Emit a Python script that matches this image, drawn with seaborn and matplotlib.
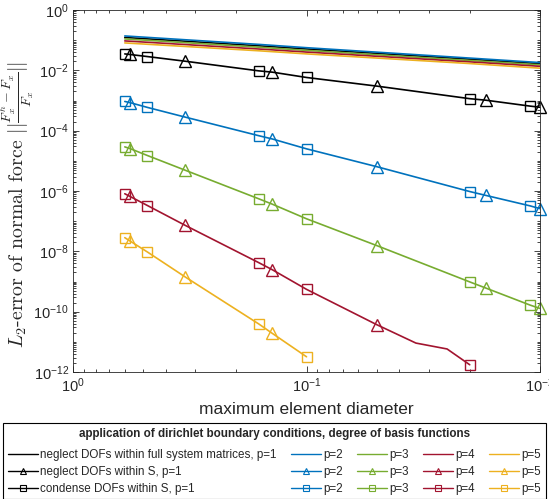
import numpy as np
import pandas as pd
import matplotlib
matplotlib.use("Agg")
import matplotlib.pyplot as plt
from matplotlib.lines import Line2D
from matplotlib.ticker import LogLocator, FuncFormatter, NullFormatter
import seaborn as sns

# maximum element diameter of the meshes
h_full = [0.6, 0.16, 0.1, 0.02, 0.01]
h_tri = [0.57, 0.33, 0.14, 0.05, 0.017, 0.01]
h_sq = [0.6, 0.48, 0.16, 0.1, 0.02, 0.011]
h_p4_extra = [0.034, 0.025]

# neglect DOFs within full system matrices
err_full_p1 = [0.123, 0.065, 0.051, 0.0234, 0.0166]
err_full_p2 = [0.138, 0.0724, 0.0563, 0.0255, 0.0181]
err_full_p3 = [0.110, 0.0585, 0.0458, 0.0212, 0.0152]
err_full_p4 = [0.0945, 0.0509, 0.0403, 0.0191, 0.0136]
err_full_p5 = [0.081, 0.0445, 0.0351, 0.0168, 0.0118]

# neglect DOFs within S
err_tri_p1 = [0.0335, 0.020, 0.0087, 0.0030, 0.00102, 0.0006]
err_tri_p2 = [8.5e-4, 2.8e-4, 5.3e-5, 6.4e-6, 7.1e-7, 2.6e-7]
err_tri_p3 = [2.55e-5, 4.85e-6, 3.65e-7, 1.55e-8, 6.0e-10, 1.28e-10]
err_tri_p4 = [6.6e-7, 7.2e-8, 2.45e-9, 3.7e-11]
err_tri_p5 = [2.2e-8, 1.4e-9, 1.9e-11]

# condense DOFs within S
err_sq_p1 = [0.035, 0.0286, 0.0096, 0.0058, 0.00115, 0.00065]
err_sq_p2 = [9.3e-4, 5.9e-4, 6.8e-5, 2.5e-5, 9.6e-7, 3.2e-7]
err_sq_p3 = [2.9e-5, 1.5e-5, 5.5e-7, 1.2e-7, 9.7e-10, 1.64e-10]
err_sq_p4 = [8.1e-7, 3.3e-7, 4.2e-9, 5.5e-10, 1.74e-12]
err_sq_p5 = [2.84e-8, 9.5e-9, 3.9e-11, 3.2e-12]
h_sq_p4 = [0.6, 0.48, 0.16, 0.1, 0.02]

# p=4 solution between the marked meshes
err_p4_extra = [9.1e-12, 5.8e-12]

degrees = ["p=1", "p=2", "p=3", "p=4", "p=5"]
colors = ["#000000", "#0072BD", "#77AC30", "#A2142F", "#EDB120"]
row_labels = ["neglect DOFs within full system matrices",
              "neglect DOFs within S",
              "condense DOFs within S"]

sns.set_theme(style="ticks")
plt.rcParams["font.family"] = ["Liberation Sans", "DejaVu Sans"]
plt.rcParams["mathtext.fontset"] = "custom"
plt.rcParams["mathtext.rm"] = "Liberation Sans"
plt.rcParams["mathtext.it"] = "Liberation Sans:italic"
plt.rcParams["mathtext.bf"] = "Liberation Sans:bold"

axis_color = "#262626"
LW = 1.2

fig = plt.figure(figsize=(5.49, 4.99), dpi=100)
ax = fig.add_axes([73 / 549, 1 - 372 / 499, 467 / 549, 362 / 499])
ax.set_xscale("log")
ax.set_yscale("log")


def draw_line(h, err, color):
    df = pd.DataFrame({"h": h, "err": err})
    sns.lineplot(data=df, x="h", y="err", ax=ax, color=color, linewidth=LW,
                 legend=False, estimator=None, sort=True)


def draw_markers(h, err, color, marker, ms):
    df = pd.DataFrame({"h": h, "err": err})
    n0 = len(ax.lines)
    sns.lineplot(data=df, x="h", y="err", ax=ax, color=color, linestyle="",
                 marker=marker, markersize=ms, markerfacecolor="none",
                 markeredgecolor=color, markeredgewidth=1.0, legend=False,
                 estimator=None, sort=True)
    for ln in ax.lines[n0:]:
        ln.set_clip_on(False)


full_sets = [err_full_p1, err_full_p2, err_full_p3, err_full_p4, err_full_p5]
tri_sets = [err_tri_p1, err_tri_p2, err_tri_p3, err_tri_p4, err_tri_p5]
sq_sets = [err_sq_p1, err_sq_p2, err_sq_p3, err_sq_p4, err_sq_p5]

for err, c in zip(full_sets, colors):
    draw_line(h_full, err, c)

for k, (err_t, err_s, c) in enumerate(zip(tri_sets, sq_sets, colors)):
    ht = h_tri[:len(err_t)]
    hs = (h_sq_p4 if k == 3 else h_sq)[:len(err_s)]
    line_h = list(ht) + list(hs)
    line_e = list(err_t) + list(err_s)
    if k == 3:
        line_h += h_p4_extra
        line_e += err_p4_extra
    draw_line(line_h, line_e, c)
    draw_markers(ht, err_t, c, "^", 8)
    draw_markers(hs, err_s, c, "s", 7)

ax.set_xlim(1, 0.01)
ax.set_ylim(1e-12, 1)

ax.xaxis.set_major_locator(LogLocator(base=10, numticks=10))
ax.xaxis.set_minor_locator(LogLocator(base=10, subs=np.arange(2, 10), numticks=20))
ax.yaxis.set_major_locator(LogLocator(base=100, numticks=20))
ax.yaxis.set_minor_locator(LogLocator(base=10, subs=np.arange(1, 10), numticks=40))
exp_fmt = FuncFormatter(lambda v, pos: r"$10^{%d}$" % int(round(np.log10(v))))
ax.xaxis.set_major_formatter(exp_fmt)
ax.yaxis.set_major_formatter(exp_fmt)
ax.xaxis.set_minor_formatter(NullFormatter())
ax.yaxis.set_minor_formatter(NullFormatter())

ax.tick_params(which="both", direction="in", top=True, right=True,
               color=axis_color, labelcolor=axis_color, width=0.6)
ax.tick_params(which="major", length=4.5, labelsize=10.5, pad=3)
ax.tick_params(which="minor", length=2.3)
for sp in ax.spines.values():
    sp.set_color(axis_color)
    sp.set_linewidth(0.6)

ax.set_xlabel("maximum element diameter", fontsize=12.5, color=axis_color,
              labelpad=5)
ax.set_ylabel(r"$L_2$-error of normal force $||\frac{F^h_x-F_x}{F_x}||$",
              fontsize=14.3, family="cmr10", math_fontfamily="cm",
              color=axis_color)
ax.yaxis.set_label_coords(-0.079, 0.464)

# legend laid out as a table: one row per method, one column per degree
handles, labels = [], []
markers = [None, "^", "s"]
for j, c in enumerate(colors):
    for i, m in enumerate(markers):
        handles.append(Line2D([], [], color=c, marker=m, markersize=4,
                              markerfacecolor="none", markeredgecolor=c,
                              markeredgewidth=0.8, linewidth=1.0))
        labels.append(f"{row_labels[i]}, p=1" if j == 0 else degrees[j])

leg = fig.legend(handles, labels, loc="upper left",
                 bbox_to_anchor=(3 / 549, 1 - 423 / 499, 543 / 549, 0.0),
                 mode="expand", ncol=5, fontsize=8.4,
                 title="application of dirichlet boundary conditions, degree of basis functions",
                 title_fontproperties={"weight": "bold", "size": 8.4},
                 frameon=True, fancybox=False, framealpha=1.0,
                 edgecolor="black", borderpad=0.4, labelspacing=0.4,
                 handlelength=2.6, handletextpad=0.2, columnspacing=0.8,
                 borderaxespad=0.0)
leg.get_frame().set_linewidth(0.8)
title_gap = 7.0  # points between the title and the first row
leg._legend_box.sep = title_gap

fig.canvas.draw()
inv = fig.transFigure.inverted()
fb = leg.get_frame().get_window_extent()
tb = leg.get_title().get_window_extent()
y_sep = tb.y0 - title_gap * fig.dpi / 72 / 2
(x0, ys), (x1, _) = inv.transform([(fb.x0, y_sep), (fb.x1, y_sep)])
fig.add_artist(Line2D([x0, x1], [ys, ys], color="black", linewidth=0.8,
                      transform=fig.transFigure))

fig.savefig("out.png", dpi=100)
